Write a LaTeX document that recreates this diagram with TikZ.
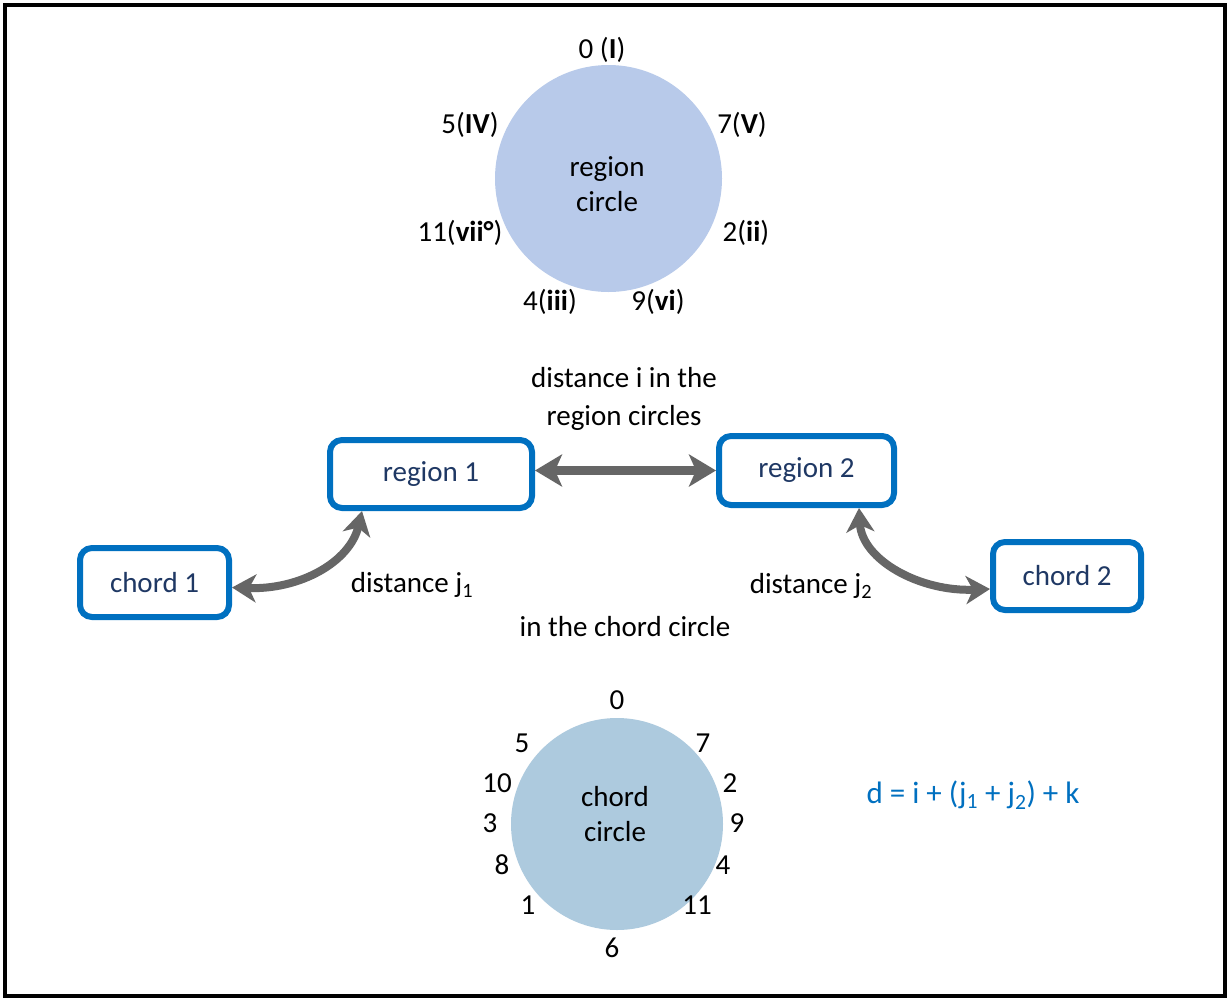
\documentclass[tikz,border=0pt]{standalone}
\usepackage{fontspec}
\setmainfont{Carlito}
\usetikzlibrary{arrows.meta}
\definecolor{boxblue}{HTML}{0070C0}
\definecolor{navy}{HTML}{1F3864}
\definecolor{regfill}{HTML}{B8CAEA}
\definecolor{chordfill}{HTML}{ADCADE}
\definecolor{arrowgrey}{HTML}{666666}
\begin{document}
\begin{tikzpicture}[x=1pt,y=-1pt,
  every node/.style={font=\fontsize{29}{36}\selectfont, inner sep=0pt},
  lbl/.style={anchor=center},
  regbox/.style={draw=boxblue, line width=6pt, rounded corners=12pt, text=navy, fill=white},
  disc/.style={circle, draw=none},
  bigarrow/.style={draw=arrowgrey, line width=9pt,
    {Stealth[length=27pt,width=32pt,inset=7pt]}-{Stealth[length=27pt,width=32pt,inset=7pt]}},
  curvarrow/.style={draw=arrowgrey, line width=8pt,
    {Stealth[length=24pt,width=28pt,inset=7pt]}-{Stealth[length=24pt,width=28pt,inset=7pt]}}
]
\useasboundingbox (0,0) rectangle (1228,999);
\fill[white] (0,0) rectangle (1228,999);
\draw[line width=4pt] (5,5) rectangle (1225,996);

% region circle
\node[disc, fill=regfill, minimum size=227pt] (rc) at (608.5,178.5) {};
\node[align=center, font=\fontsize{29}{35}\selectfont] (rctext) at (607,184.5) {region\\circle};
\node[lbl] (r0) at (602,50) {0 (\textbf{I})};
\node[lbl] (r5) at (470,125) {5(\textbf{IV})};
\node[lbl] (r7) at (742,125) {7(\textbf{V})};
\node[lbl] (r11) at (460,233) {11(\textbf{vii°})};
\node[lbl] (r2) at (746,233) {2(\textbf{ii})};
\node[lbl] (r4) at (550,302) {4(\textbf{iii})};
\node[lbl] (r9) at (658,302) {9(\textbf{vi})};

% middle text
\node[align=center, font=\fontsize{29}{38}\selectfont] (dtext) at (624,399) {distance i in the\\region circles};
\node[lbl] (dj1) at (412,585) {distance j\textsubscript{1}};
\node[lbl] (dj2) at (811,586) {distance j\textsubscript{2}};
\node[lbl] (chtext) at (625,627) {in the chord circle};

% boxes
\node[regbox, minimum width=202pt, minimum height=68pt] (reg1) at (431,474) {region 1};
\node[regbox, minimum width=175pt, minimum height=69pt] (reg2) at (806.5,470.5) {region 2};
\node[regbox, minimum width=149pt, minimum height=69pt] (ch1) at (154.5,582.5) {chord 1};
\node[regbox, minimum width=148pt, minimum height=68pt] (ch2) at (1067,576) {chord 2};

% arrows
\draw[bigarrow] ([yshift=3.5pt]reg1.east) -- (reg2.west);
\draw[curvarrow] ([yshift=-5pt]ch1.east) .. controls (300,590) and (350,562) .. ([xshift=-69pt]reg1.south);
\draw[curvarrow] ([xshift=52.5pt]reg2.south) .. controls (862,560) and (920,592) .. ([yshift=-13pt]ch2.west);

% chord circle
\node[disc, fill=chordfill, minimum size=212pt] (cc) at (617,824) {};
\node[align=center, font=\fontsize{29}{35}\selectfont] (cctext) at (615,814.5) {chord\\circle};
\node[lbl] (c0) at (617,700) {0};
\node[lbl] (c7) at (703,743) {7};
\node[lbl] (c2) at (730,783) {2};
\node[lbl] (c9) at (737,823) {9};
\node[lbl] (c4) at (723,865) {4};
\node[lbl] (c11) at (697,905) {11};
\node[lbl] (c6) at (612,948) {6};
\node[lbl] (c1) at (528,905) {1};
\node[lbl] (c8) at (502,865) {8};
\node[lbl] (c3) at (490,823) {3};
\node[lbl] (c10) at (497,783) {10};
\node[lbl] (c5) at (522,743) {5};

% formula
\node[lbl, text=boxblue, font=\fontsize{31}{38}\selectfont] (formula) at (973,795) {d = i + (j\textsubscript{1} + j\textsubscript{2}) + k};
\end{tikzpicture}
\end{document}
